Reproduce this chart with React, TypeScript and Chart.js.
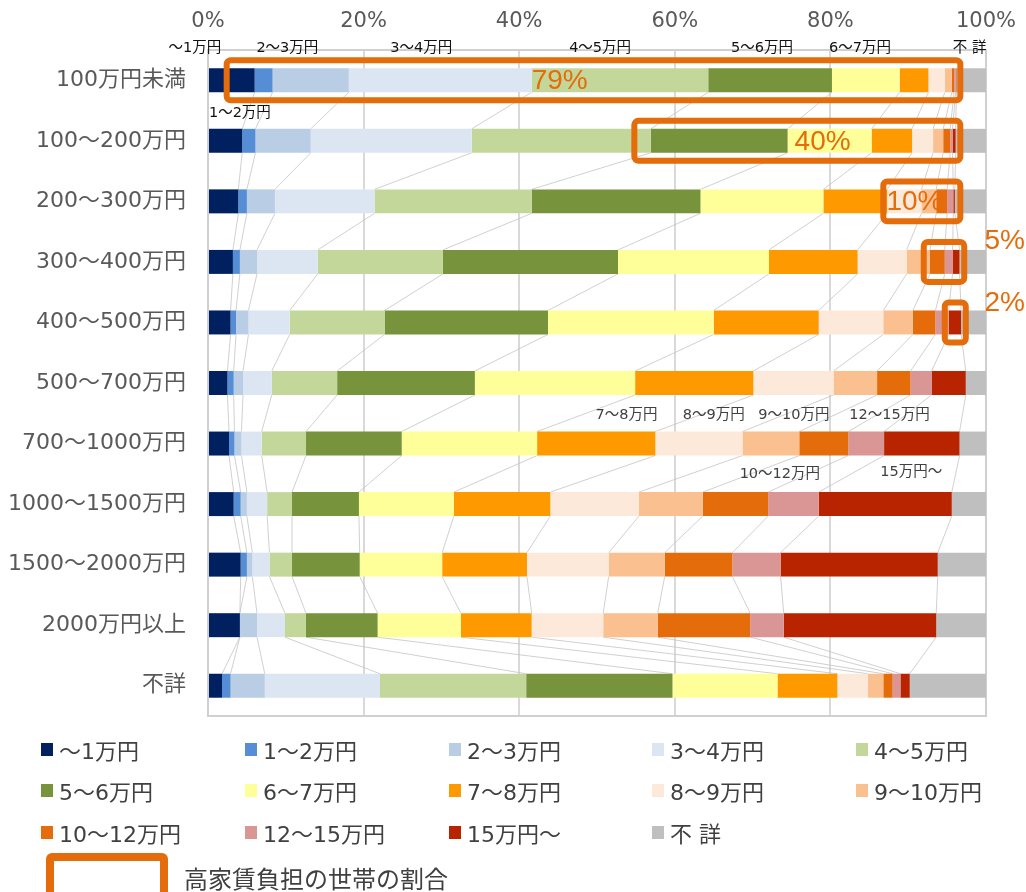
import React, { useEffect, useRef } from "react";
import { Chart, registerables } from "chart.js";
Chart.register(...registerables);

const categories = ["100万円未満", "100～200万円", "200～300万円", "300～400万円", "400～500万円", "500～700万円", "700～1000万円", "1000～1500万円", "1500～2000万円", "2000万円以上", "不詳"];
const seriesNames = ["～1万円", "1～2万円", "2～3万円", "3～4万円", "4～5万円", "5～6万円", "6～7万円", "7～8万円", "8～9万円", "9～10万円", "10～12万円", "12～15万円", "15万円～", "不 詳"];

const s01 = [6.0, 4.4, 3.9, 3.2, 2.9, 2.5, 2.7, 3.3, 4.2, 4.1, 1.8];
const s02 = [2.3, 1.7, 1.1, 0.9, 0.7, 0.8, 0.7, 0.9, 0.8, 0.0, 1.1];
const s03 = [9.8, 7.1, 3.6, 2.2, 1.6, 1.2, 0.9, 0.8, 0.7, 2.2, 4.4];
const s04 = [23.5, 20.7, 12.8, 7.8, 5.3, 3.7, 2.6, 2.6, 2.2, 3.6, 14.8];
const s05 = [22.7, 23.0, 20.2, 16.1, 12.2, 8.4, 5.7, 3.2, 2.9, 2.7, 18.8];
const s06 = [15.9, 17.6, 21.7, 22.5, 21.0, 17.7, 12.3, 8.6, 8.7, 9.2, 18.8];
const s07 = [8.7, 10.8, 15.8, 19.4, 21.3, 20.6, 17.4, 12.2, 10.6, 10.7, 13.5];
const s08 = [3.7, 5.2, 8.2, 11.4, 13.5, 15.2, 15.2, 12.4, 10.9, 9.1, 7.7];
const s09 = [2.1, 2.7, 4.4, 6.3, 8.3, 10.3, 11.2, 11.4, 10.5, 9.2, 3.9];
const s10 = [0.9, 1.3, 1.9, 3.0, 3.8, 5.6, 7.3, 8.2, 7.2, 7.0, 2.0];
const s11 = [0.3, 0.9, 1.4, 1.9, 2.9, 4.3, 6.3, 8.4, 8.7, 11.9, 1.2];
const s12 = [0.2, 0.3, 0.8, 1.0, 1.7, 2.7, 4.6, 6.5, 6.2, 4.3, 1.0];
const s13 = [0.1, 0.4, 0.2, 0.9, 1.6, 4.4, 9.7, 17.1, 20.2, 19.6, 1.2];
const s14 = [3.8, 3.9, 4.0, 3.4, 3.2, 2.6, 3.4, 4.4, 6.2, 6.4, 9.8];
const seriesValues = [s01, s02, s03, s04, s05, s06, s07, s08, s09, s10, s11, s12, s13, s14];

const xTicks = [0, 20, 40, 60, 80, 100];

// highlight boxes (data units: percent, row index)
const boxRows = [0, 1, 2, 3, 4];
const boxStart = [2.4, 54.8, 86.8, 92.0, 94.7];
const boxEnd = [96.7, 96.7, 96.7, 97.2, 97.4];
const boxLabels = ["79%", "40%", "10%", "5%", "2%"];
const boxLabelX = [45.2, 79.0, 90.8, 102.4, 102.4];
const boxLabelRow = [0, 1, 2, 2.64, 3.66];

// series name labels placed in the plot (data units)
const catLabelText = ["～1万円", "2～3万円", "3～4万円", "4～5万円", "5～6万円", "6～7万円", "不 詳", "1～2万円", "7～8万円", "8～9万円", "9～10万円", "12～15万円", "10～12万円", "15万円～"];
const catLabelX = [-1.7, 10.2, 27.4, 50.4, 71.2, 83.8, 97.9, 4.1, 53.8, 65.0, 75.3, 87.6, 73.5, 90.4];
const catLabelRow = [-0.533, -0.533, -0.533, -0.533, -0.533, -0.533, -0.533, 0.54, 5.54, 5.54, 5.54, 5.54, 6.5, 6.48];

const colors = ["#002060", "#558ED5", "#B9CDE5", "#DCE6F2", "#C4D79B", "#77933C", "#FFFF99", "#FF9900", "#FDE9D9", "#FAC090", "#E46C0A", "#D99694", "#B82300", "#BFBFBF"];
const ORANGE = "#E46C0A";
const FONT = "'DejaVu Sans', 'Noto Sans CJK JP', sans-serif";
const FONT_PCT = "'Liberation Sans', Arial, 'Noto Sans CJK JP', sans-serif";

const seriesLinesPlugin = {
  id: "seriesLines",
  beforeDatasetsDraw(chart: any) {
    const ctx = chart.ctx;
    const ca = chart.chartArea;
    ctx.save();
    ctx.strokeStyle = "#D0D0D0";
    ctx.lineWidth = 2;
    ctx.strokeRect(ca.left, ca.top, ca.right - ca.left, ca.bottom - ca.top);
    ctx.strokeStyle = "#C4C4C4";
    ctx.lineWidth = 0.8;
    const n = chart.data.datasets.length;
    for (let d = 0; d < n - 1; d++) {
      const meta = chart.getDatasetMeta(d);
      for (let i = 0; i < meta.data.length - 1; i++) {
        const a: any = meta.data[i];
        const b: any = meta.data[i + 1];
        ctx.beginPath();
        ctx.moveTo(a.x, a.y + a.height / 2);
        ctx.lineTo(b.x, b.y - b.height / 2);
        ctx.stroke();
      }
    }
    ctx.restore();
  },
};

const annotationPlugin = {
  id: "annot",
  afterDatasetsDraw(chart: any) {
    const ctx = chart.ctx;
    const xs = chart.scales.x;
    const ys = chart.scales.y;
    ctx.save();
    const half = ys.getPixelForValue(0.33) - ys.getPixelForValue(0);
    ctx.strokeStyle = ORANGE;
    ctx.lineWidth = 6;
    ctx.lineJoin = "round";
    for (let k = 0; k < boxRows.length; k++) {
      const x1 = xs.getPixelForValue(boxStart[k]);
      const x2 = xs.getPixelForValue(boxEnd[k]);
      const yc = ys.getPixelForValue(boxRows[k]);
      ctx.beginPath();
      if (ctx.roundRect) ctx.roundRect(x1, yc - half, x2 - x1, 2 * half, 4);
      else ctx.rect(x1, yc - half, x2 - x1, 2 * half);
      ctx.stroke();
    }
    ctx.fillStyle = ORANGE;
    ctx.font = `28px ${FONT_PCT}`;
    ctx.textAlign = "center";
    ctx.textBaseline = "middle";
    for (let k = 0; k < boxLabels.length; k++) {
      ctx.fillText(boxLabels[k], xs.getPixelForValue(boxLabelX[k]), ys.getPixelForValue(boxLabelRow[k]) + 1);
    }
    ctx.font = `14.5px ${FONT}`;
    for (let k = 0; k < catLabelText.length; k++) {
      ctx.fillStyle = catLabelRow[k] < 1 ? "#111111" : "#404040";
      ctx.fillText(catLabelText[k], xs.getPixelForValue(catLabelX[k]), ys.getPixelForValue(catLabelRow[k]));
    }
    ctx.restore();
  },
};

function ChartView() {
  const ref = useRef<HTMLCanvasElement | null>(null);
  useEffect(() => {
    if (!ref.current) return;
    const chart = new Chart(ref.current, {
      type: "bar",
      data: {
        labels: categories,
        datasets: seriesValues.map((vals, i) => ({
          label: seriesNames[i],
          data: vals,
          backgroundColor: colors[i],
          borderWidth: 0,
          barPercentage: 0.396,
          categoryPercentage: 1,
        })),
      },
      options: {
        indexAxis: "y",
        responsive: false,
        animation: false,
        events: [],
        layout: { padding: { left: 0, right: 40, top: 0, bottom: 176 } },
        plugins: { legend: { display: false }, tooltip: { enabled: false } },
        scales: {
          x: {
            type: "linear",
            position: "top",
            stacked: true,
            min: 0,
            max: 100,
            afterBuildTicks: (scale: any) => {
              scale.ticks = xTicks.map((v) => ({ value: v }));
            },
            afterFit: (scale: any) => {
              scale.height = 50;
              scale.paddingLeft = 0;
              scale.paddingRight = 0;
            },
            ticks: {
              callback: (v: any) => v + "%",
              font: { size: 21, family: FONT },
              color: "#595959",
              padding: 16,
              maxRotation: 0,
            },
            grid: { color: "#D9D9D9", lineWidth: 2, drawTicks: false },
            border: { display: false },
          },
          y: {
            type: "category",
            stacked: true,
            afterFit: (scale: any) => {
              scale.width = 208;
              scale.paddingTop = 0;
              scale.paddingBottom = 0;
            },
            ticks: {
              font: { size: 22, family: FONT },
              color: "#595959",
              padding: 22,
            },
            grid: { display: false, drawTicks: false },
            border: { display: false },
          },
        },
      },
      plugins: [seriesLinesPlugin, annotationPlugin],
    } as any);
    return () => chart.destroy();
  }, []);
  return <canvas ref={ref} width={1026} height={892} style={{ position: "absolute", left: 0, top: 0, display: "block" }} />;
}

function Legend() {
  const rowsY = [749, 790, 832];
  const colX = [41, 245, 449, 652, 856];
  return (
    <>
      {seriesNames.map((name, k) => {
        const col = k % 5;
        const row = Math.floor(k / 5);
        return (
          <div key={name} style={{ position: "absolute", left: colX[col], top: rowsY[row] - 14, height: 28, display: "flex", alignItems: "center", fontFamily: FONT, fontSize: 22, color: "#404040", whiteSpace: "pre" }}>
            <span style={{ display: "inline-block", width: 12, height: 13, background: colors[k], marginRight: 6 }} />
            <span>{name}</span>
          </div>
        );
      })}
      <div style={{ position: "absolute", left: 46, top: 853, width: 106, height: 60, border: `8px solid ${ORANGE}`, borderRadius: 6 }} />
      <div style={{ position: "absolute", left: 184, top: 863, height: 28, display: "flex", alignItems: "center", fontFamily: FONT, fontSize: 24, color: "#404040" }}>
        高家賃負担の世帯の割合
      </div>
    </>
  );
}

export default function App() {
  return (
    <div style={{ position: "absolute", left: 0, top: 0, width: 1026, height: 892, overflow: "hidden", background: "#fff" }}>
      <ChartView />
      <Legend />
    </div>
  );
}
